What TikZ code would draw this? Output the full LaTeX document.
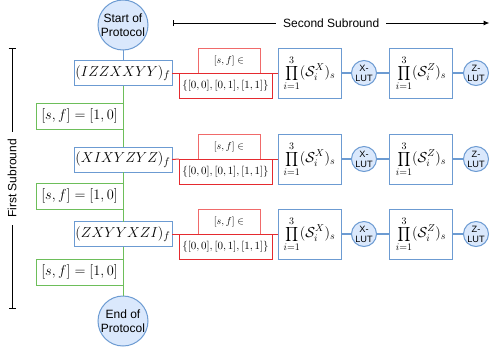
\documentclass[tikz,border=0pt]{standalone}
\usepackage{fontspec}
\setsansfont{Liberation Sans}
\usetikzlibrary{arrows.meta}
\definecolor{bl}{HTML}{6C9BD2}
\definecolor{blfill}{HTML}{DAE8FC}
\definecolor{gr}{HTML}{6DBE5A}
\definecolor{rdA}{HTML}{F06A6A}
\definecolor{rdB}{HTML}{E52A2F}
\begin{document}
\begin{tikzpicture}[x=1pt,y=-1pt,
 every node/.style={outer sep=0pt, inner sep=0pt},
 proto/.style={circle, draw=bl, fill=blfill, line width=1pt, minimum size=50pt, align=center, font=\sffamily\fontsize{12}{13.5}\selectfont},
 lut/.style={circle, draw=bl, fill=blfill, line width=1pt, minimum size=25pt, align=center, font=\sffamily\fontsize{9.2}{10}\selectfont},
 pauli/.style={rectangle, draw=bl, fill=white, line width=1pt, minimum width=98pt, minimum height=25pt, font=\fontsize{15}{17}\selectfont},
 cond/.style={rectangle, draw=gr, fill=white, line width=1pt, minimum width=87pt, minimum height=26pt, anchor=north east, font=\fontsize{14.5}{16}\selectfont},
 intop/.style={rectangle, draw=rdA, line width=1pt, minimum width=62pt, minimum height=25pt, anchor=south west, font=\fontsize{10}{12}\selectfont},
 inset/.style={rectangle, draw=rdB, line width=1pt, minimum width=93pt, minimum height=25pt, anchor=north west, font=\fontsize{10.7}{12}\selectfont},
 prodbox/.style={rectangle, draw=bl, fill=white, line width=1pt, minimum width=63pt, minimum height=50pt, font=\fontsize{14}{16}\selectfont},
 flow/.style={line width=1pt},
 lutline/.style={bl, line width=2pt},
 span/.style={line width=1pt, black},
 spanlabel/.style={fill=white, inner xsep=7pt, inner ysep=2pt, font=\sffamily\fontsize{12}{14}\selectfont}
]
\useasboundingbox (0,0) rectangle (490,354);

\node[proto] (start) at (123,25) {Start of\\Protocol};
\node[proto] (end) at (123,321) {End of\\Protocol};

\foreach \r/\yb/\yg/\yr/\t in {1/73/103/73/IZZXXYY, 2/159.5/183/159/XIXYZYZ, 3/234/259/234/ZXYYXZI}{
  \node[cond] (g\r) at (123,\yg) {$[s,f]=[1,0]$};
  \node[pauli] (b\r) at (123,\yb) {$(\t)_f$};
  \node[intop] (rt\r) at (198,\yr) {$[s,f]\in$};
  \node[inset] (rl\r) at (179,\yr) {$\{[0,0],[0,1],[1,1]\}$};
  \node[prodbox] (p\r) at (309.5,\yr) {$\displaystyle\prod_{i=1}^{3}(\mathcal{S}_i^X)_s$};
  \node[lut] (x\r) at (364,\yr) {X-\\LUT};
  \node[prodbox] (q\r) at (421,\yr) {$\displaystyle\prod_{i=1}^{3}(\mathcal{S}_i^Z)_s$};
  \node[lut] (z\r) at (476,\yr) {Z-\\LUT};
  \draw[flow, rdB] (b\r.east) -- (rl\r.north west);
  \draw[flow, rdB] (rl\r.north east) -- (p\r.west);
  \draw[lutline] (p\r.east) -- (x\r.west);
  \draw[lutline] (x\r.east) -- (q\r.west);
  \draw[lutline] (q\r.east) -- (z\r.west);
}

\draw[flow, bl] (start) -- (b1);
\draw[flow, gr] (b1) -- (b2);
\draw[flow, gr] (b2) -- (b3);
\draw[flow, gr] (b3) -- (end);

\coordinate (ssA) at (173,23);
\coordinate (ssB) at (489.5,23);
\draw[span, {Bar[width=6pt]}-{Latex[length=6pt,width=5pt]}] (ssA) -- node[spanlabel] {Second Subround} (ssB);

\coordinate (fsA) at (12,48);
\coordinate (fsB) at (12,309);
\draw[span, {Bar[width=7pt]}-{Bar[width=7pt]}] (fsA) -- node[spanlabel, rotate=90] {First Subround} (fsB);
\end{tikzpicture}
\end{document}
